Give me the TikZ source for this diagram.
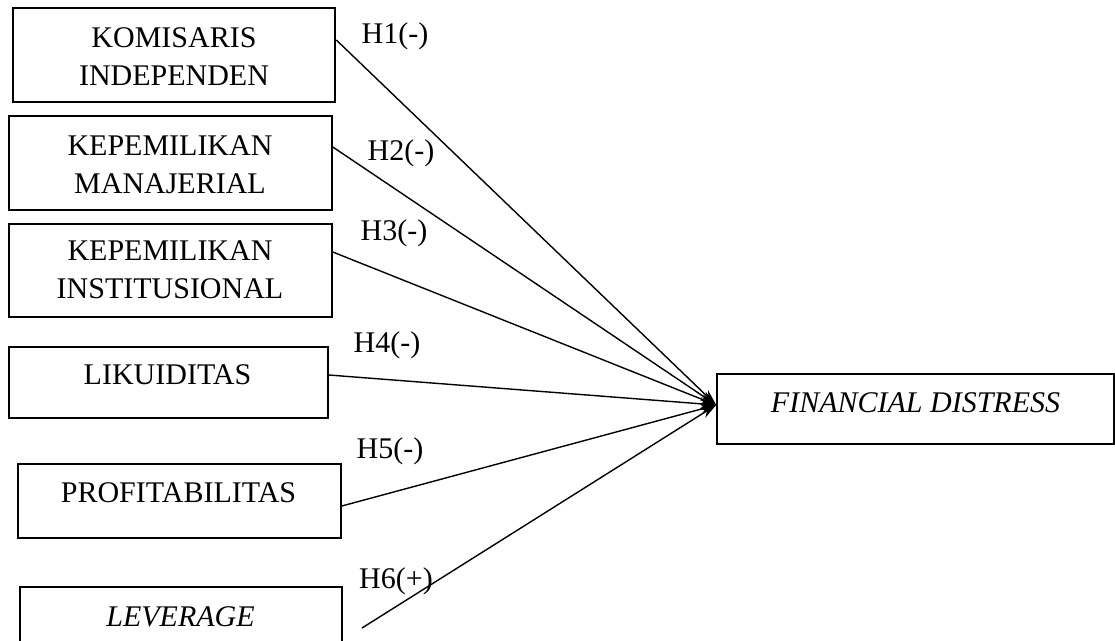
\documentclass[tikz,border=0pt]{standalone}
\usepackage{fontspec}
\setmainfont{Liberation Serif}
\usetikzlibrary{arrows.meta}
\begin{document}
\begin{tikzpicture}[x=1pt,y=-1pt,
  box/.style={draw=black,line width=1.6pt,rectangle,inner sep=0pt},
  thickbox/.style={box,line width=2.6pt},
  txt/.style={inner sep=0pt,align=center,font=\fontsize{30}{38}\selectfont},
  hyp/.style={inner sep=0pt,anchor=base,font=\fontsize{30}{38}\selectfont},
  arr/.style={draw=black,line width=1.4pt,-{Stealth[length=16pt,width=10pt]}}]
\useasboundingbox (0,0) rectangle (1115,640);
\clip (0,0) rectangle (1115,640);
% boxes
\node[thickbox,minimum width=322,minimum height=94] (b1) at (174,55) {};
\node[box,minimum width=323,minimum height=94] (b2) at (170.5,163) {};
\node[box,minimum width=323,minimum height=93] (b3) at (170.5,270.5) {};
\node[box,minimum width=319,minimum height=71] (b4) at (168.5,382.5) {};
\node[box,minimum width=323,minimum height=74] (b5) at (179.5,501) {};
\node[box,minimum width=322,minimum height=78] (b6) at (181,626) {};
\node[box,minimum width=397,minimum height=70] (tgt) at (915.5,409) {};
% texts
\node[txt] (t1) at (174,56.5) {KOMISARIS\\INDEPENDEN};
\node[txt] (t2) at (170,164.5) {KEPEMILIKAN\\MANAJERIAL};
\node[txt] (t3) at (170,270) {KEPEMILIKAN\\INSTITUSIONAL};
\node[txt] (t4) at (167.5,375) {LIKUIDITAS};
\node[txt] (t5) at (178.5,492.5) {PROFITABILITAS};
\node[txt] (t6) at (180.5,616.5) {\itshape LEVERAGE};
\node[txt] (tt) at (915.5,402.5) {\itshape FINANCIAL DISTRESS};
% hypothesis labels
\node[hyp] (h1) at (395,43) {H1(-)};
\node[hyp] (h2) at (401,160) {H2(-)};
\node[hyp] (h3) at (394,240) {H3(-)};
\node[hyp] (h4) at (387,352) {H4(-)};
\node[hyp] (h5) at (390,458) {H5(-)};
\node[hyp] (h6) at (396,588) {H6(+)};
% connectors
\coordinate (tip) at ([yshift=4pt]tgt.west);
\coordinate (s6) at (362,628);
\draw[arr] ([yshift=15pt]b1.east) -- (tip);
\draw[arr] ([yshift=16pt]b2.east) -- (tip);
\draw[arr] ([yshift=18.5pt]b3.east) -- (tip);
\draw[arr] ([yshift=7.5pt]b4.east) -- (tip);
\draw[arr] ([yshift=-5pt]b5.east) -- (tip);
\draw[arr] (s6) -- (tip);
\end{tikzpicture}
\end{document}
